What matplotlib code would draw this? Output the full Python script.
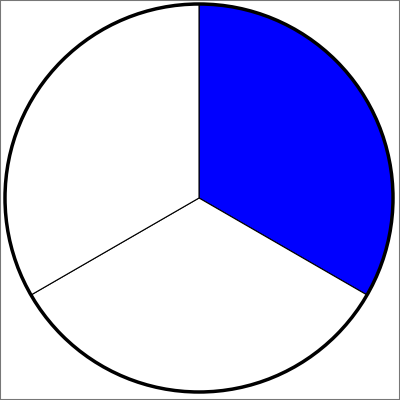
import matplotlib
matplotlib.use('Agg')
import matplotlib.pyplot as plt
from matplotlib.patches import Circle, Rectangle

# three equal parts, first one highlighted
sizes = [1, 1, 1]
colors = ['#0000ff', 'white', 'white']

fig = plt.figure(figsize=(4, 4), dpi=100)
ax = fig.add_axes([0, 0, 1, 1])

ax.pie(sizes, colors=colors, startangle=90, counterclock=False,
       radius=0.97, center=(-0.005, 0.01),
       wedgeprops={'edgecolor': 'black', 'linewidth': 0.8})
ax.add_patch(Circle((-0.005, 0.01), 0.97, fill=False, edgecolor='black', linewidth=2.5))
ax.set_xlim(-1, 1)
ax.set_ylim(-1, 1)
ax.set_aspect('equal')
ax.axis('off')

# thin grey frame around the picture
fig.patches.append(Rectangle((0, 0), 1, 1, transform=fig.transFigure, fill=False,
                             edgecolor='#777777', linewidth=1.5))

fig.savefig('out.png', dpi=100)
